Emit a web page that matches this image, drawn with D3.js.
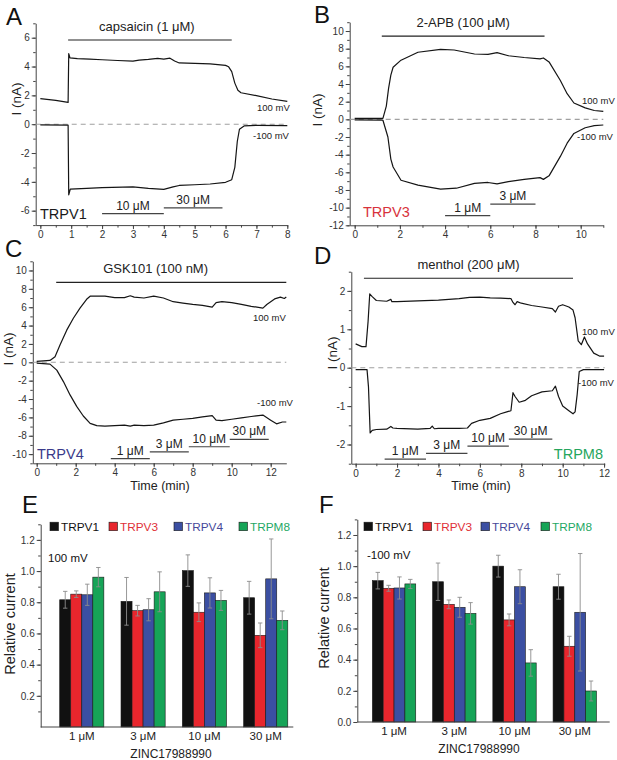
<!DOCTYPE html>
<html>
<head>
<meta charset="utf-8">
<script src="https://cdn.jsdelivr.net/npm/d3@7"></script>
<style>
  body { margin: 0; background: #fff; }
  svg { font-family: "Liberation Sans", Arial, sans-serif; }
  .axis path, .axis line { stroke: #444; }
  .axis text { fill: #333; font-size: 10px; font-family: "Liberation Sans", Arial, sans-serif; }
</style>
</head>
<body>
<svg id="fig" width="617" height="760"></svg>
<script>
// ---- traces, [time (min), current (nA)] ----
var trpv1Pos = [[0,1.78],[0.5,1.65],[0.9,1.52],[0.92,4.9],[0.96,4.6],[1.2,4.55],[1.6,4.52],[2,4.47],[2.5,4.42],[3,4.38],[3.2,4.45],[3.5,4.5],[3.8,4.57],[4,4.52],[4.2,4.58],[4.35,4.38],[4.5,4.25],[5,4.22],[5.5,4.18],[6,4.08],[6.1,3.98],[6.2,3.65],[6.3,2.85],[6.4,2.35],[6.5,2.18],[7,1.98],[7.5,1.75],[8,1.58]];
var trpv1Neg = [[0,-0.05],[0.9,-0.06],[0.92,-4.9],[0.97,-4.5],[1.5,-4.45],[2,-4.4],[3,-4.35],[3.5,-4.45],[4,-4.52],[4.3,-4.35],[4.5,-4.25],[5,-4.2],[5.5,-4.15],[6,-4.03],[6.2,-3.85],[6.3,-3.0],[6.38,-1.2],[6.45,-0.35],[6.6,-0.12],[7,-0.08],[8,-0.1]];

var trpv3Pos = [[0,0.1],[1.25,0.1],[1.4,1.5],[1.5,3.5],[1.6,5.0],[1.7,5.9],[2.05,6.7],[2.8,7.6],[3.8,7.93],[4.4,7.85],[5.3,7.4],[5.9,7.35],[6.3,7.55],[6.8,7.2],[7.5,7.0],[8.2,6.85],[8.35,6.95],[8.6,6.5],[9.1,4.4],[9.4,2.9],[9.7,1.85],[10.2,1.3],[10.6,1.0],[11,0.9]];
var trpv3Neg = [[0,-0.05],[1.25,-0.1],[1.47,-2.0],[1.6,-4.5],[1.7,-5.4],[2.05,-6.9],[2.8,-7.45],[3.8,-7.9],[4.5,-7.8],[5.3,-7.25],[5.9,-7.15],[6.3,-7.3],[6.8,-7.05],[7.5,-6.8],[8.2,-6.6],[8.35,-6.8],[8.6,-6.4],[9.1,-4.2],[9.4,-2.7],[9.7,-1.6],[10.2,-0.95],[10.6,-0.72],[11,-0.64]];

var trpv4Pos = [[0,0.1],[0.68,0.2],[0.94,0.6],[1.2,1.9],[1.54,3.5],[1.88,4.8],[2.22,5.9],[2.56,6.86],[2.74,7.2],[3,7.2],[3.5,7.2],[4,7.05],[4.5,7.05],[4.8,7.25],[5,7.1],[5.5,7.0],[6,7.2],[6.5,7.0],[7,6.6],[7.5,6.45],[8,6.3],[8.5,6.2],[9,6.0],[9.2,6.5],[9.5,6.6],[10,6.5],[10.5,6.3],[11,6.1],[11.6,5.9],[11.8,6.3],[12.2,6.9],[12.5,7.1],[12.7,6.95],[12.8,7.1]];
var trpv4Neg = [[0,-0.1],[0.68,-0.2],[1.03,-0.85],[1.37,-2.1],[1.71,-3.55],[2.05,-4.8],[2.39,-5.85],[2.74,-6.65],[3.08,-6.9],[3.5,-6.95],[4,-6.9],[4.5,-6.85],[4.8,-6.95],[5,-6.85],[5.5,-6.9],[6,-6.85],[6.5,-6.6],[7,-6.3],[7.5,-6.2],[8,-6.1],[8.5,-5.95],[9,-5.8],[9.2,-6.3],[9.5,-6.35],[10,-6.2],[10.5,-6.05],[11,-5.9],[11.6,-5.75],[12,-6.3],[12.3,-6.7],[12.6,-6.5],[12.8,-6.5]];

var trpm8Pos = [[0,0.62],[0.3,0.55],[0.5,0.55],[0.6,1.2],[0.68,1.92],[0.8,1.85],[1,1.75],[1.5,1.73],[1.7,1.78],[1.75,1.72],[2,1.72],[3,1.74],[4,1.76],[5,1.8],[5.5,1.83],[6,1.84],[6.5,1.82],[7,1.81],[7.5,1.8],[7.6,1.7],[7.7,1.64],[7.8,1.72],[8,1.68],[8.5,1.62],[9,1.58],[9.5,1.54],[9.65,1.45],[9.8,1.6],[10,1.64],[10.3,1.58],[10.5,1.5],[10.6,1.3],[10.75,0.7],[10.9,0.6],[11.05,0.8],[11.2,0.62],[11.5,0.38],[11.8,0.3],[12,0.3]];
var trpm8Neg = [[0,-0.05],[0.55,-0.05],[0.62,-0.5],[0.7,-1.7],[0.8,-1.63],[1,-1.61],[1.5,-1.6],[1.7,-1.53],[1.8,-1.57],[2,-1.58],[3,-1.6],[3.6,-1.58],[3.7,-1.52],[3.8,-1.59],[4,-1.58],[5,-1.58],[5.4,-1.57],[5.6,-1.45],[6,-1.37],[6.5,-1.32],[7,-1.2],[7.3,-1.15],[7.5,-1.12],[7.6,-0.65],[7.7,-0.75],[7.9,-0.9],[8.2,-0.85],[8.5,-0.73],[9,-0.63],[9.5,-0.6],[9.65,-0.48],[9.8,-0.75],[10,-1.0],[10.3,-1.12],[10.5,-1.2],[10.6,-1.15],[10.7,-0.7],[10.8,-0.1],[11,-0.05],[12,-0.05]];

// ---- agonist and ZINC17988990 application windows [start, end] (min) ----
var agonistV1 = [0.9, 6.2], agonistV3 = [1.2, 8.4], agonistV4 = [1, 12.8], agonistM8 = [0.4, 10.5];
var concV1 = [["10 μM", 2, 4], ["30 μM", 4, 5.9]];
var concV3 = [["1 μM", 4, 6], ["3 μM", 6, 8]];
var concV4 = [["1 μM", 3.8, 5.8], ["3 μM", 5.8, 7.8], ["10 μM", 7.8, 9.9], ["30 μM", 9.9, 11.9]];
var concM8 = [["1 μM", 1.4, 3.4], ["3 μM", 3.4, 5.4], ["10 μM", 5.4, 7.4], ["30 μM", 7.4, 9.5]];

// ---- summary bars ----
var concLabels = ["1 μM", "3 μM", "10 μM", "30 μM"];
var channels = ["TRPV1", "TRPV3", "TRPV4", "TRPM8"];
// 100 mV
var posMeanV1 = [0.816, 0.806, 1.003, 0.829], posErrV1 = [0.054, 0.153, 0.101, 0.105];
var posMeanV3 = [0.852, 0.746, 0.736, 0.588], posErrV3 = [0.021, 0.034, 0.060, 0.079];
var posMeanV4 = [0.848, 0.752, 0.860, 0.950], posErrV4 = [0.068, 0.071, 0.097, 0.256];
var posMeanM8 = [0.961, 0.867, 0.812, 0.684], posErrM8 = [0.062, 0.128, 0.064, 0.060];
// -100 mV
var negMeanV1 = [0.907, 0.900, 1.000, 0.868], negErrV1 = [0.053, 0.120, 0.070, 0.080];
var negMeanV3 = [0.858, 0.755, 0.655, 0.486], negErrV3 = [0.019, 0.028, 0.038, 0.064];
var negMeanV4 = [0.860, 0.736, 0.868, 0.704], negErrV4 = [0.071, 0.064, 0.109, 0.377];
var negMeanM8 = [0.886, 0.697, 0.379, 0.199], negErrM8 = [0.029, 0.069, 0.085, 0.064];

var barFill = ["#111111", "#e8262d", "#3b4fa2", "#16a457"];
var legendText = ["#111111", "#e03038", "#46489a", "#1ea865"];

var svg = d3.select("#fig");


function letter (s, x, y) {
  svg.append("text").attr("x", x).attr("y", y).attr("font-size", 24).attr("fill", "#111").text(s);
}

function yTitle (s, x, y, size) {
  svg.append("text").attr("transform", "translate(" + x + "," + y + ") rotate(-90)")
    .attr("text-anchor", "middle").attr("font-size", size).attr("fill", "#222").text(s);
}

function range (a, b, step) {
  return d3.range(0, Math.round((b - a) / step) + 1).map(i => +(a + i * step).toFixed(3));
}


// One current trace panel
function tracePanel (p) {
  var x = d3.scaleLinear().domain(p.xDomain).range([p.left, p.right]);
  var y = d3.scaleLinear().domain(p.yDomain).range([p.bottom, p.top]);
  var g = svg.append("g");

  // minor ticks first, then labelled ones
  g.append("g").attr("class", "axis").attr("transform", "translate(0," + p.bottom + ")")
    .call(d3.axisBottom(x).tickValues(p.xMinor).tickSize(2.5).tickSizeOuter(0).tickFormat(""))
    .select(".domain").remove();
  g.append("g").attr("class", "axis").attr("transform", "translate(0," + p.bottom + ")")
    .call(d3.axisBottom(x).tickValues(p.xMajor).tickSize(4).tickSizeOuter(0).tickPadding(2).tickFormat(d => String(d)));
  g.append("g").attr("class", "axis").attr("transform", "translate(" + p.left + ",0)")
    .call(d3.axisLeft(y).tickValues(p.yMinor).tickSize(2.5).tickSizeOuter(0).tickFormat(""))
    .select(".domain").remove();
  g.append("g").attr("class", "axis").attr("transform", "translate(" + p.left + ",0)")
    .call(d3.axisLeft(y).tickValues(p.yMajor).tickSize(4).tickSizeOuter(0).tickPadding(2).tickFormat(d => String(d)));

  // zero line
  g.append("line")
    .attr("x1", x(p.xDomain[0])).attr("x2", x(p.xDomain[1]))
    .attr("y1", y(0)).attr("y2", y(0))
    .attr("stroke", "#a0a0a0").attr("stroke-width", 1.1).attr("stroke-dasharray", "5,4");

  var line = d3.line().x(d => x(d[0])).y(d => y(d[1]));
  [p.pos, p.neg].forEach(tr => {
    g.append("path").datum(tr).attr("d", line)
      .attr("fill", "none").attr("stroke", "#151515").attr("stroke-width", 1.2).attr("stroke-linejoin", "round");
  });

  // agonist bar
  g.append("line").attr("x1", x(p.agonist[0])).attr("x2", x(p.agonist[1]))
    .attr("y1", y(p.agonistLevel)).attr("y2", y(p.agonistLevel))
    .attr("stroke", "#222").attr("stroke-width", 1.2);
  g.append("text").attr("x", x((p.agonist[0] + p.agonist[1]) / 2 + (p.agonistShift || 0))).attr("y", y(p.agonistLevel) - 9)
    .attr("text-anchor", "middle").attr("font-size", 13).attr("fill", "#222").text(p.agonistName);

  // ZINC17988990 bars
  p.conc.forEach((c, i) => {
    var ly = y(p.concLevels[i]);
    g.append("line").attr("x1", x(c[1])).attr("x2", x(c[2])).attr("y1", ly).attr("y2", ly)
      .attr("stroke", "#444").attr("stroke-width", 1.2);
    g.append("text").attr("x", x((c[1] + c[2]) / 2)).attr("y", ly - 4)
      .attr("text-anchor", "middle").attr("font-size", 12).attr("fill", "#222").text(c[0]);
  });

  // voltage labels
  g.append("text").attr("x", p.vPos[0]).attr("y", p.vPos[1]).attr("font-size", 9.5).attr("fill", "#222").text("100 mV");
  g.append("text").attr("x", p.vNeg[0]).attr("y", p.vNeg[1]).attr("font-size", 9.5).attr("fill", "#222").text("-100 mV");

  // channel name
  g.append("text").attr("x", p.name[1]).attr("y", p.name[2]).attr("font-size", 14.5).attr("fill", p.name[3])
    .attr("text-anchor", p.name[4] || "start").text(p.name[0]);

  if (p.xTitle) {
    g.append("text").attr("x", p.xTitle[0]).attr("y", p.xTitle[1]).attr("text-anchor", "middle")
      .attr("font-size", 12.5).attr("fill", "#222").text("Time (min)");
  }
}


// One summary bar panel
function barPanel (p) {
  var x = d3.scaleLinear().domain(p.xDomain).range([p.left, p.right]);
  var y = d3.scaleLinear().domain([0, 1.3]).range([p.bottom, p.top]);
  var g = svg.append("g");
  var bw = 0.18;

  g.append("g").attr("class", "axis").attr("transform", "translate(" + p.left + ",0)")
    .call(d3.axisLeft(y).tickValues(range(0.1, 1.3, 0.1)).tickSize(2.5).tickSizeOuter(0).tickFormat(""))
    .select(".domain").remove();
  g.append("g").attr("class", "axis").attr("transform", "translate(" + p.left + ",0)")
    .call(d3.axisLeft(y).tickValues(p.yLabels).tickSize(4).tickSizeOuter(0).tickPadding(2).tickFormat(d3.format(".1f")));

  p.means.forEach((m, j) => {
    m.forEach((v, i) => {
      var cx = x(i + 1 + (j - 1.5) * bw);
      var w = x(bw) - x(0);
      g.append("rect").attr("x", cx - w / 2).attr("y", y(v)).attr("width", w).attr("height", y(0) - y(v))
        .attr("fill", barFill[j]).attr("stroke", "#1a1a1a").attr("stroke-width", 0.6);
    });
  });
  // error bars drawn above the bars
  p.means.forEach((m, j) => {
    m.forEach((v, i) => {
      var cx = x(i + 1 + (j - 1.5) * bw), e = p.errs[j][i];
      var eg = g.append("g").attr("stroke", "#8c8c8c").attr("stroke-width", 0.9);
      eg.append("line").attr("x1", cx).attr("x2", cx).attr("y1", y(v - e)).attr("y2", y(v + e));
      eg.append("line").attr("x1", cx - 2.2).attr("x2", cx + 2.2).attr("y1", y(v + e)).attr("y2", y(v + e));
      eg.append("line").attr("x1", cx - 2.2).attr("x2", cx + 2.2).attr("y1", y(v - e)).attr("y2", y(v - e));
    });
  });

  // x axis
  g.append("line").attr("x1", p.left).attr("x2", p.right).attr("y1", p.bottom).attr("y2", p.bottom)
    .attr("stroke", "#444");
  concLabels.forEach((c, i) => {
    g.append("text").attr("x", x(i + 1)).attr("y", p.bottom + 13).attr("text-anchor", "middle")
      .attr("font-size", 11.5).attr("fill", "#222").text(c);
  });
  g.append("text").attr("x", p.xTitle[0]).attr("y", p.xTitle[1]).attr("text-anchor", "middle")
    .attr("font-size", 12).attr("fill", "#222").text("ZINC17988990");

  // legend
  channels.forEach((c, j) => {
    g.append("rect").attr("x", p.legend[j]).attr("y", p.legendY - 4.5).attr("width", 8.5).attr("height", 8.5)
      .attr("fill", barFill[j]).attr("stroke", "#1a1a1a").attr("stroke-width", 0.6);
    g.append("text").attr("x", p.legend[j] + 11).attr("y", p.legendY + 4.2).attr("font-size", 11.8)
      .attr("fill", legendText[j]).text(c);
  });

  g.append("text").attr("x", p.mv[0]).attr("y", p.mv[1]).attr("font-size", 11.5).attr("fill", "#111").text(p.mv[2]);
}


// ---- A ----
tracePanel({
  left: 35.7, right: 287.3, top: 23.3, bottom: 225.1,
  xDomain: [-0.15, 8], yDomain: [-7, 7],
  xMajor: range(0, 8, 1), xMinor: range(0, 8, 0.5),
  yMajor: range(-6, 6, 2), yMinor: range(-7, 7, 1),
  pos: trpv1Pos, neg: trpv1Neg,
  agonist: agonistV1, agonistLevel: 5.84, agonistName: "capsaicin (1 μM)", agonistShift: -0.1,
  conc: concV1, concLevels: [-6.2, -5.8],
  vPos: [257, 111], vNeg: [253, 139],
  name: ["TRPV1", 40, 219, "#1a1a1a"]
});

// ---- B ----
tracePanel({
  left: 349.7, right: 603.3, top: 22.2, bottom: 225.3,
  xDomain: [-0.22, 11], yDomain: [-12, 11],
  xMajor: range(0, 10, 2), xMinor: range(0, 11, 1),
  yMajor: range(-12, 10, 2), yMinor: range(-12, 11, 1),
  pos: trpv3Pos, neg: trpv3Neg,
  agonist: agonistV3, agonistLevel: 9.43, agonistName: "2-APB (100 μM)",
  conc: concV3, concLevels: [-10.9, -9.6],
  vPos: [582, 104], vNeg: [577, 140],
  name: ["TRPV3", 363, 217, "#d8323b"]
});

// ---- C ----
tracePanel({
  left: 32.8, right: 286.3, top: 261.3, bottom: 463.3,
  xDomain: [-0.2, 12.8], yDomain: [-11, 11],
  xMajor: range(0, 12, 2), xMinor: range(0, 12, 1),
  yMajor: range(-10, 10, 2), yMinor: range(-11, 11, 1),
  pos: trpv4Pos, neg: trpv4Neg,
  agonist: agonistV4, agonistLevel: 8.7, agonistName: "GSK101 (100 nM)", agonistShift: -0.8,
  conc: concV4, concLevels: [-10.5, -9.75, -9.2, -8.4],
  vPos: [253, 321], vNeg: [257, 406],
  name: ["TRPV4", 37, 459, "#3a3a8a"],
  xTitle: [160, 490]
});

// ---- D ----
tracePanel({
  left: 351.3, right: 604.7, top: 271.7, bottom: 463.7,
  xDomain: [-0.21, 12.03], yDomain: [-2.5, 2.5],
  xMajor: range(0, 12, 2), xMinor: range(0, 12, 1),
  yMajor: range(-2, 2, 1), yMinor: range(-2.5, 2.5, 0.5),
  pos: trpm8Pos, neg: trpm8Neg,
  agonist: agonistM8, agonistLevel: 2.33, agonistName: "menthol (200 μM)",
  conc: concM8, concLevels: [-2.38, -2.23, -2.04, -1.86],
  vPos: [582, 335], vNeg: [578, 386],
  name: ["TRPM8", 603, 459, "#25a55c", "end"],
  xTitle: [481, 490]
});

// ---- E ----
barPanel({
  left: 40.7, right: 293.3, top: 524.3, bottom: 727,
  xDomain: [0.33, 4.45],
  yLabels: range(0.2, 1.2, 0.2),
  means: [posMeanV1, posMeanV3, posMeanV4, posMeanM8],
  errs: [posErrV1, posErrV3, posErrV4, posErrM8],
  xTitle: [171, 758],
  legend: [50, 109, 174, 239], legendY: 526.7,
  mv: [48, 562, "100 mV"]
});

// ---- F ----
barPanel({
  left: 357.3, right: 609.7, top: 519.4, bottom: 722,
  xDomain: [0.39, 4.58],
  yLabels: range(0, 1.2, 0.2),
  means: [negMeanV1, negMeanV3, negMeanV4, negMeanM8],
  errs: [negErrV1, negErrV3, negErrV4, negErrM8],
  xTitle: [479, 753],
  legend: [364, 423, 481, 541], legendY: 526.7,
  mv: [367, 559, "-100 mV"]
});

// axis titles
yTitle("I (nA)", 21, 99, 13.5);
yTitle("I (nA)", 322, 110, 13.5);
yTitle("I (nA)", 13, 349, 13.5);
yTitle("I (nA)", 337, 353, 13.5);
yTitle("Relative current", 15, 624, 14.5);
yTitle("Relative current", 329, 618, 14.5);

// panel letters
letter("A", 6, 25);
letter("B", 314, 23);
letter("C", 5, 257);
letter("D", 314, 264);
letter("E", 22, 513);
letter("F", 319, 513);
</script>
</body>
</html>
